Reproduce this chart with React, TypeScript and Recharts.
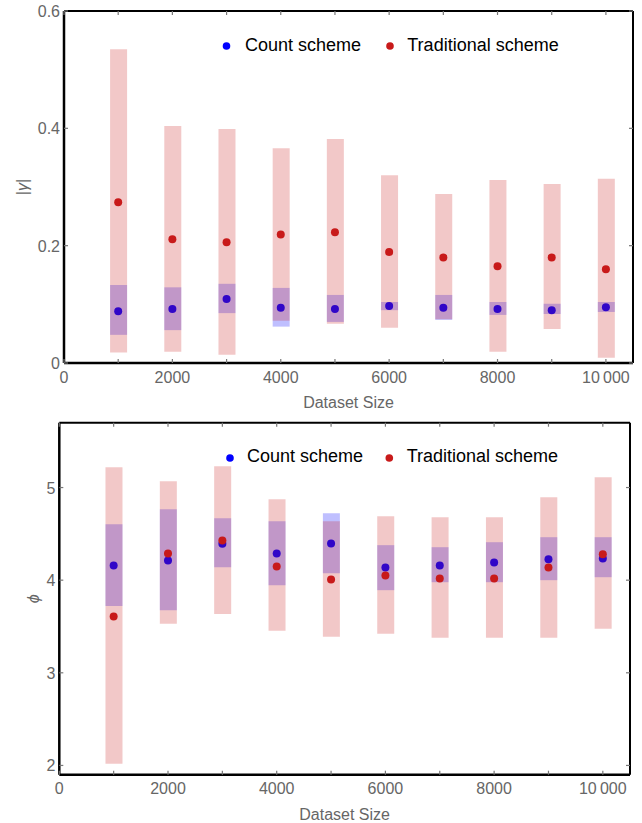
import React from 'react';
import { ComposedChart, Bar, Scatter, XAxis, YAxis, Legend, Label } from 'recharts';

// dataset sizes on the x axis
const sizes = [1000, 2000, 3000, 4000, 5000, 6000, 7000, 8000, 9000, 10000];

// |gamma| panel
const gammaCountMean = [0.088, 0.092, 0.109, 0.094, 0.092, 0.097, 0.094, 0.092, 0.090, 0.095];
const gammaCountLow = [0.048, 0.056, 0.085, 0.062, 0.070, 0.090, 0.0735, 0.082, 0.0835, 0.087];
const gammaCountHigh = [0.133, 0.129, 0.135, 0.128, 0.116, 0.104, 0.116, 0.104, 0.101, 0.104];
const gammaTradMean = [0.274, 0.211, 0.206, 0.219, 0.223, 0.189, 0.180, 0.165, 0.180, 0.160];
const gammaTradLow = [0.018, 0.019, 0.014, 0.072, 0.067, 0.060, 0.0745, 0.019, 0.058, 0.009];
const gammaTradHigh = [0.535, 0.404, 0.399, 0.366, 0.382, 0.320, 0.288, 0.312, 0.305, 0.314];

// phi panel
const phiCountMean = [4.158, 4.212, 4.392, 4.288, 4.396, 4.137, 4.158, 4.19, 4.227, 4.234];
const phiCountLow = [3.72, 3.676, 4.14, 3.946, 4.076, 3.892, 3.978, 3.978, 4.0, 4.032];
const phiCountHigh = [4.604, 4.766, 4.669, 4.636, 4.723, 4.378, 4.356, 4.41, 4.464, 4.464];
const phiTradMean = [3.608, 4.288, 4.428, 4.148, 4.007, 4.051, 4.018, 4.018, 4.137, 4.28];
const phiTradLow = [2.018, 3.529, 3.636, 3.453, 3.388, 3.421, 3.378, 3.378, 3.378, 3.475];
const phiTradHigh = [5.219, 5.068, 5.23, 4.874, 4.636, 4.69, 4.68, 4.68, 4.895, 5.111];

const xTicks = [0, 1000, 2000, 3000, 4000, 5000, 6000, 7000, 8000, 9000, 10000];
const xTickLabels = ['0', '', '2000', '', '4000', '', '6000', '', '8000', '', '10\u2009000'];
const gammaTicks = [0, 0.2, 0.4, 0.6];
const gammaTickLabels = ['0', '0.2', '0.4', '0.6'];
const phiTicks = [2, 3, 4, 5];
const phiTickLabels = ['2', '3', '4', '5'];
const legendLabels = ['Count scheme', 'Traditional scheme'];

const FONT = '"Liberation Sans", Arial, Helvetica, sans-serif';
const GRAY = '#666';
const TICK = '#777';
const BLUE = '#0000ff';
const RED = '#c81a1a';

const buildRows = (cm: number[], cl: number[], ch: number[], tm: number[], tl: number[], th: number[]) =>
  sizes.map((x, i) => ({
    x,
    countMean: cm[i],
    countRange: [cl[i], ch[i]],
    tradMean: tm[i],
    tradRange: [tl[i], th[i]],
  }));

const gammaRows = buildRows(gammaCountMean, gammaCountLow, gammaCountHigh, gammaTradMean, gammaTradLow, gammaTradHigh);
const phiRows = buildRows(phiCountMean, phiCountLow, phiCountHigh, phiTradMean, phiTradLow, phiTradHigh);

const dot = (color: string) => (p: any) => <circle cx={p.cx} cy={p.cy} r={4} fill={color} />;

const BottomTick = (p: any) => {
  const label = xTickLabels[xTicks.indexOf(p.payload.value)] || '';
  return (
    <g>
      <line x1={p.x} x2={p.x} y1={p.y} y2={p.y - 4} stroke={TICK} strokeWidth={1.2} />
      {label && (
        <text x={p.x} y={p.y + 19.7} textAnchor="middle" fill={GRAY} fontSize={16} fontFamily={FONT}>
          {label}
        </text>
      )}
    </g>
  );
};

// mirrored axes hand the tick the frame coordinate, so draw inwards from there
const TopTick = (p: any) => <line x1={p.x} x2={p.x} y1={p.y} y2={p.y + 4} stroke={TICK} strokeWidth={1.2} />;

const leftTick = (ticks: number[], labels: string[]) => (p: any) => (
  <g>
    <line x1={p.x} x2={p.x + 4} y1={p.y} y2={p.y} stroke={TICK} strokeWidth={1.2} />
    <text x={p.x - 4} y={p.y + 6} textAnchor="end" fill={GRAY} fontSize={16} fontFamily={FONT}>
      {labels[ticks.indexOf(p.payload.value)]}
    </text>
  </g>
);

const RightTick = (p: any) => <line x1={p.x} x2={p.x - 4} y1={p.y} y2={p.y} stroke={TICK} strokeWidth={1.2} />;

const yLabelContent = (content: React.ReactNode, dx: number) => (p: any) => {
  const vb = p.viewBox;
  const cx = vb.x + dx;
  const cy = vb.y + vb.height / 2;
  return (
    <text
      x={cx}
      y={cy}
      transform={`rotate(-90 ${cx} ${cy})`}
      textAnchor="middle"
      dominantBaseline="central"
      fill={GRAY}
      fontSize={16}
      fontFamily={FONT}
    >
      {content}
    </text>
  );
};

const xLabelContent = (p: any) => {
  const vb = p.viewBox;
  return (
    <text x={vb.x + vb.width / 2} y={vb.y + 45} textAnchor="middle" fill={GRAY} fontSize={16} fontFamily={FONT}>
      Dataset Size
    </text>
  );
};

type LegendPos = { dots: number[]; texts: number[]; cy: number };

const legendContent = (pos: LegendPos) => () => (
  <svg width={642} height={60} style={{ display: 'block' }}>
    {legendLabels.map((label, i) => (
      <g key={label}>
        <circle cx={pos.dots[i]} cy={pos.cy} r={3.8} fill={i === 0 ? BLUE : RED} />
        <text x={pos.texts[i]} y={50.7} fill="#000" fontSize={18} fontFamily={FONT}>
          {label}
        </text>
      </g>
    ))}
  </svg>
);

interface PanelProps {
  rows: ReturnType<typeof buildRows>;
  yDomain: [number, number];
  yTicks: number[];
  yTickLabels: string[];
  yLabel: React.ReactNode;
  yLabelDx: number;
  margin: { top: number; right: number; bottom: number; left: number };
  yAxisWidth: number;
  xAxisHeight: number;
  legend: LegendPos;
}

function Panel({ rows, yDomain, yTicks, yTickLabels, yLabel, yLabelDx, margin, yAxisWidth, xAxisHeight, legend }: PanelProps) {
  return (
    <ComposedChart width={642} height={412} data={rows} margin={margin}>
      <XAxis
        dataKey="x"
        type="number"
        domain={[0, 10500]}
        allowDataOverflow
        ticks={xTicks}
        interval={0}
        height={xAxisHeight}
        tickSize={0}
        tickMargin={0}
        tickLine={false}
        tick={BottomTick}
        axisLine={{ stroke: '#000', strokeWidth: 2.5 }}
        label={<Label content={xLabelContent} />}
      />
      <XAxis
        xAxisId="trad"
        dataKey="x"
        type="number"
        domain={[0, 10500]}
        allowDataOverflow
        ticks={xTicks}
        hide
      />
      <XAxis
        xAxisId="top"
        orientation="top"
        mirror
        dataKey="x"
        type="number"
        domain={[0, 10500]}
        allowDataOverflow
        ticks={xTicks}
        interval={0}
        height={10}
        tickSize={0}
        tickMargin={0}
        tickLine={false}
        tick={TopTick}
        axisLine={{ stroke: '#000', strokeWidth: 2 }}
      />
      <YAxis
        type="number"
        domain={yDomain}
        allowDataOverflow
        ticks={yTicks}
        interval={0}
        width={yAxisWidth}
        tickSize={0}
        tickMargin={0}
        tickLine={false}
        tick={leftTick(yTicks, yTickLabels)}
        axisLine={{ stroke: '#000', strokeWidth: 2.5 }}
        label={<Label content={yLabelContent(yLabel, yLabelDx)} />}
      />
      <YAxis
        yAxisId="right"
        orientation="right"
        mirror
        type="number"
        domain={yDomain}
        allowDataOverflow
        ticks={yTicks}
        interval={0}
        width={10}
        tickSize={0}
        tickMargin={0}
        tickLine={false}
        tick={RightTick}
        axisLine={{ stroke: '#000', strokeWidth: 2 }}
      />
      <Legend
        layout="horizontal"
        verticalAlign="middle"
        align="center"
        wrapperStyle={{ top: 0, left: 0, width: 642, height: 60, margin: 0, padding: 0 }}
        content={legendContent(legend)}
      />
      <Bar dataKey="countRange" barSize={17} fill={BLUE} fillOpacity={0.25} isAnimationActive={false} zIndex={300} />
      <Scatter dataKey="countMean" shape={dot(BLUE)} isAnimationActive={false} zIndex={310} />
      <Bar
        xAxisId="trad"
        dataKey="tradRange"
        barSize={17}
        fill={RED}
        fillOpacity={0.24}
        isAnimationActive={false}
        zIndex={320}
      />
      <Scatter dataKey="tradMean" shape={dot(RED)} isAnimationActive={false} zIndex={330} />
    </ComposedChart>
  );
}

export default function App() {
  return (
    <div style={{ position: 'absolute', left: 0, top: 0, width: 642, height: 823, background: '#fff' }}>
      <div style={{ position: 'absolute', left: 0, top: 0 }}>
        <Panel
          rows={gammaRows}
          yDomain={[0, 0.6]}
          yTicks={gammaTicks}
          yTickLabels={gammaTickLabels}
          yLabel={
            <>
              |<tspan fontStyle="italic">γ</tspan>|
            </>
          }
          yLabelDx={22}
          margin={{ top: 11, right: 9, bottom: 0, left: 0 }}
          yAxisWidth={64}
          xAxisHeight={49}
          legend={{ dots: [226.5, 390], texts: [245, 407.3], cy: 46 }}
        />
      </div>
      <div style={{ position: 'absolute', left: 0, top: 411 }}>
        <Panel
          rows={phiRows}
          yDomain={[1.9, 5.7]}
          yTicks={phiTicks}
          yTickLabels={phiTickLabels}
          yLabel={<tspan fontStyle="italic">ϕ</tspan>}
          yLabelDx={33}
          margin={{ top: 11.7, right: 12, bottom: 0, left: 0 }}
          yAxisWidth={59.3}
          xAxisHeight={48.3}
          legend={{ dots: [230, 389.3], texts: [247, 406.7], cy: 47 }}
        />
      </div>
    </div>
  );
}
